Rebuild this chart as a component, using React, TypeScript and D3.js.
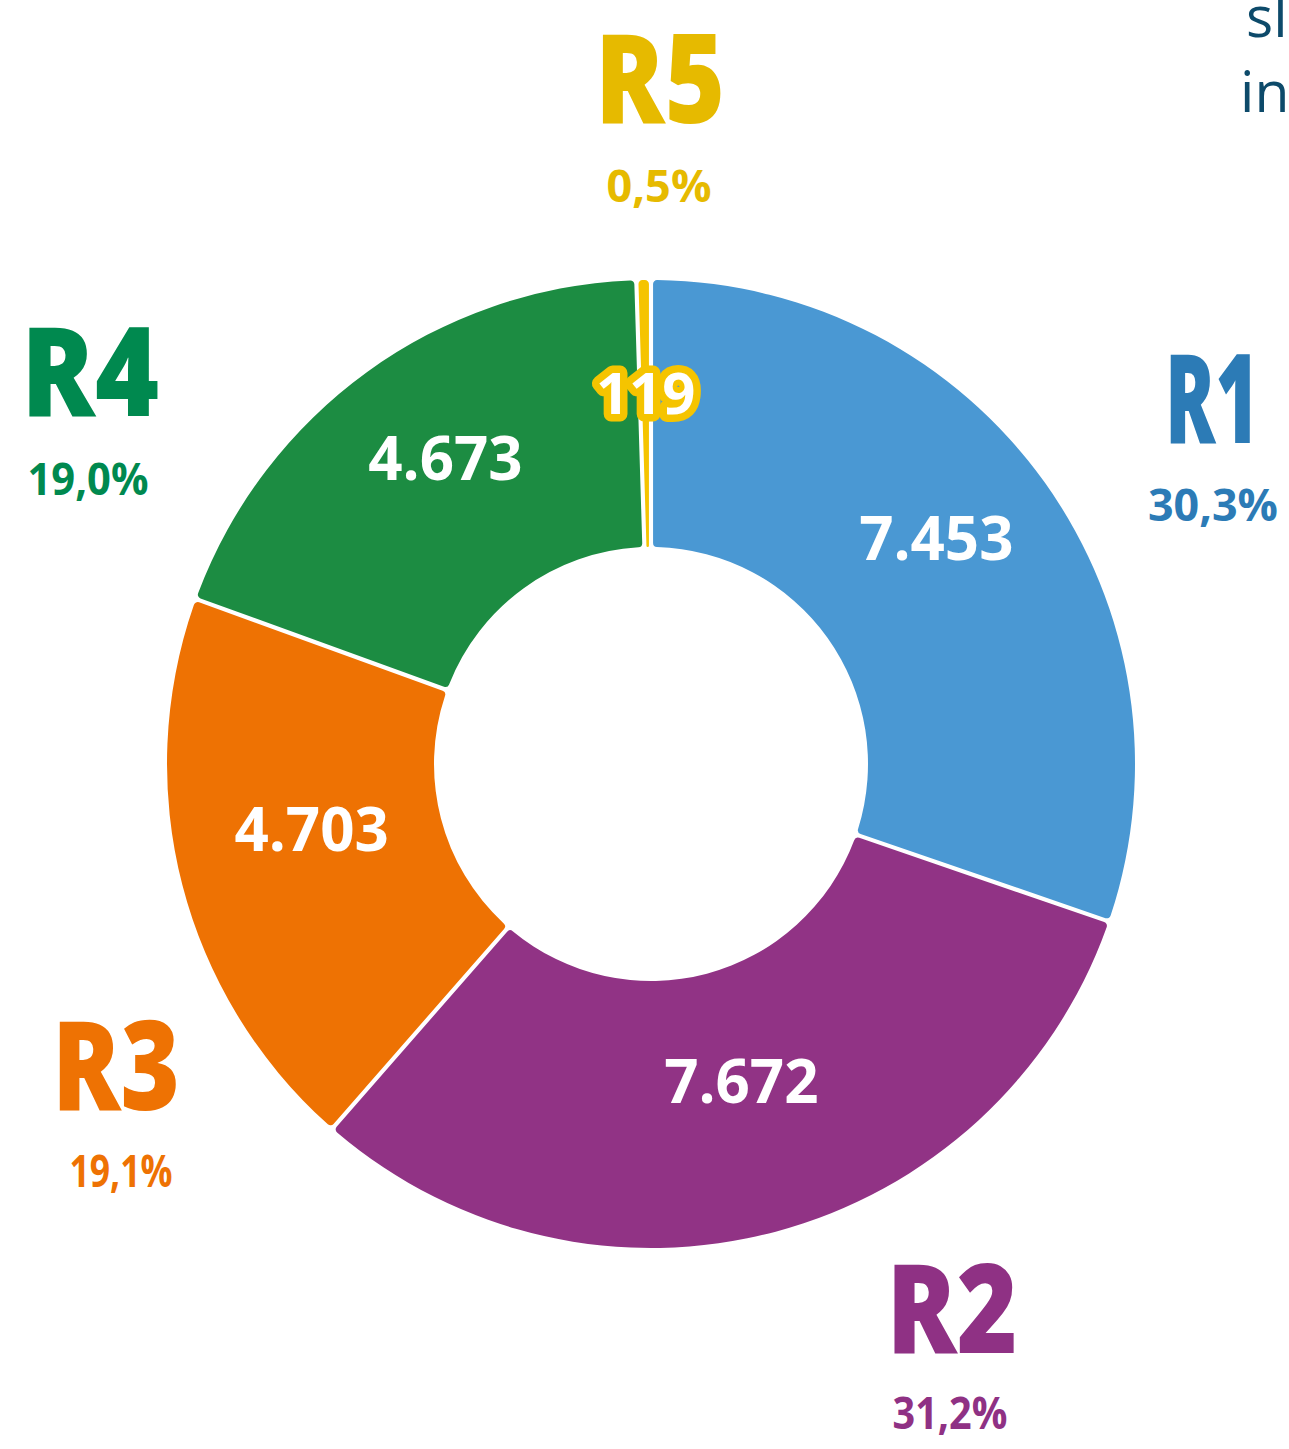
import React from "react";
import * as d3 from "d3";

const regions = ["R1", "R2", "R3", "R4", "R5"];
const counts = [7453, 7672, 4703, 4673, 119];
const sliceColors = ["#4A98D3", "#913385", "#EE7203", "#1C8C42", "#F5C400"];
const labelColors = ["#2C7BB6", "#8F3184", "#EE7203", "#00894F", "#E6BA00"];

// callout layout (centre x, baseline of name, baseline of percentage, name width)
const calloutX = [1212, 952, 116, 90, 660];
const pctX = [1213, 950, 121, 88, 659];
const nameBaseline = [443, 1353, 1110, 416, 123];
const pctBaseline = [521, 1429, 1187, 495, 202];
const nameWidth = [94, 131, 128, 138, 130];
const pctWidth = [130, 115, 103, 121, 105];

const W = 1289;
const H = 1449;
const cx = 651;
const cy = 764;
const outerR = 484;
const innerR = 217;

const locale = d3.formatLocale({ decimal: ",", thousands: ".", grouping: [3], currency: ["", "€"] });
const fmtInt = locale.format(",d");

export default function App() {
  const total = d3.sum(counts);
  const pie = d3
    .pie<number>()
    .sort(null)
    .value((d) => d)
    .startAngle(0)
    .endAngle(2 * Math.PI);
  const arcs = pie(counts);
  const arc = d3
    .arc<d3.PieArcDatum<number>>()
    .innerRadius(innerR)
    .outerRadius(outerR)
    .padAngle(0.0078)
    .cornerRadius(4);
  const labelArc = d3
    .arc<d3.PieArcDatum<number>>()
    .innerRadius(innerR)
    .outerRadius(outerR);

  const valueFont = "'Open Sans', 'DejaVu Sans', sans-serif";
  const nameFont = "'Open Sans', 'Noto Sans', sans-serif";

  return (
    <svg
      width={W}
      height={H}
      viewBox={`0 0 ${W} ${H}`}
      style={{ position: "absolute", left: 0, top: 0, background: "#ffffff" }}
    >
      <rect x={0} y={0} width={W} height={H} fill="#ffffff" />
      <g transform={`translate(${cx},${cy})`}>
        {arcs.map((a, i) => (
          <path key={regions[i]} d={arc(a) || ""} fill={sliceColors[i]} />
        ))}
        {arcs.map((a, i) => {
          const [x, y] = labelArc.centroid(a);
          const small = i === 4;
          return (
            <text
              key={"v" + regions[i]}
              x={x}
              y={y}
              textAnchor="middle"
              fontFamily={valueFont}
              fontWeight={700}
              fontSize={small ? 58 : 60}
              fill="#ffffff"
              stroke={small ? sliceColors[i] : "none"}
              strokeWidth={small ? 15 : 0}
              strokeLinejoin="round"
              paintOrder="stroke"
            >
              {fmtInt(counts[i])}
            </text>
          );
        })}
      </g>
      {regions.map((r, i) => (
        <g key={"c" + r}>
          <text
            x={calloutX[i]}
            y={nameBaseline[i]}
            textAnchor="middle"
            fontFamily={nameFont}
            fontWeight={800}
            fontSize={124}
            textLength={nameWidth[i]}
            lengthAdjust="spacingAndGlyphs"
            fill={labelColors[i]}
          >
            {r}
          </text>
          <text
            x={pctX[i]}
            y={pctBaseline[i]}
            textAnchor="middle"
            fontFamily={nameFont}
            fontWeight={700}
            fontSize={44}
            textLength={pctWidth[i]}
            lengthAdjust="spacingAndGlyphs"
            fill={labelColors[i]}
          >
            {(counts[i] / total * 100).toFixed(1).replace(".", ",")}%
          </text>
        </g>
      ))}
      <text x={1246} y={37} fontFamily="'Open Sans', sans-serif" fontSize={57} fill="#0D4A6A">
        sl
      </text>
      <text x={1240} y={112} fontFamily="'Open Sans', sans-serif" fontSize={57} fill="#0D4A6A">
        in
      </text>
    </svg>
  );
}
